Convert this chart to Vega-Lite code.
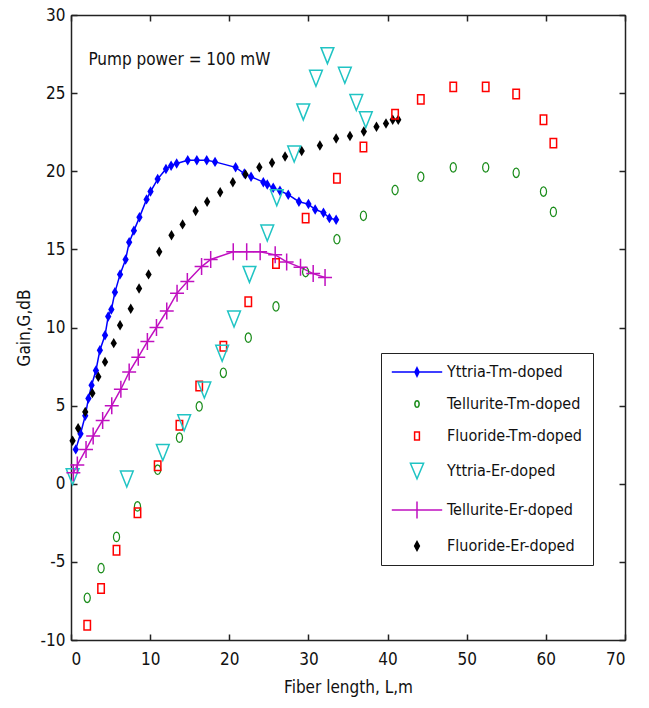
{
  "$schema": "https://vega.github.io/schema/vega-lite/v6.json",
  "width": 554,
  "height": 625,
  "autosize": "none",
  "padding": {"left": 71, "top": 15, "right": 24, "bottom": 68},
  "background": "white",
  "config": {
    "font": "DejaVu Sans Condensed, Liberation Sans, sans-serif",
    "view": {"stroke": "#222", "strokeWidth": 1},
    "axis": {
      "grid": false,
      "labelFont": "DejaVu Sans Condensed, Liberation Sans, sans-serif",
      "labelFontSize": 17,
      "labelColor": "#111",
      "titleFont": "DejaVu Sans Condensed, Liberation Sans, sans-serif",
      "titleFontSize": 17,
      "titleFontWeight": "normal",
      "titleColor": "#111",
      "domainColor": "#222",
      "domainWidth": 1.5,
      "tickColor": "#222",
      "tickWidth": 1.5,
      "tickSize": -6
    },
    "legend": {
      "labelFont": "DejaVu Sans Condensed, Liberation Sans, sans-serif",
      "labelFontSize": 16,
      "labelColor": "#111"
    }
  },
  "datasets": {
    "pts": [
      {"s": "Yttria-Tm-doped", "x": 0.6, "y": 2.2},
      {"s": "Yttria-Tm-doped", "x": 1.2, "y": 3.2},
      {"s": "Yttria-Tm-doped", "x": 1.8, "y": 4.35},
      {"s": "Yttria-Tm-doped", "x": 2.2, "y": 5.45},
      {"s": "Yttria-Tm-doped", "x": 2.6, "y": 6.3},
      {"s": "Yttria-Tm-doped", "x": 3.15, "y": 7.25},
      {"s": "Yttria-Tm-doped", "x": 3.65, "y": 8.55},
      {"s": "Yttria-Tm-doped", "x": 4.3, "y": 9.5},
      {"s": "Yttria-Tm-doped", "x": 4.7, "y": 10.7},
      {"s": "Yttria-Tm-doped", "x": 5.1, "y": 11.15},
      {"s": "Yttria-Tm-doped", "x": 5.55, "y": 12.25},
      {"s": "Yttria-Tm-doped", "x": 6.2, "y": 13.4},
      {"s": "Yttria-Tm-doped", "x": 6.9, "y": 14.35},
      {"s": "Yttria-Tm-doped", "x": 7.35, "y": 15.45},
      {"s": "Yttria-Tm-doped", "x": 7.95, "y": 16.2},
      {"s": "Yttria-Tm-doped", "x": 8.65, "y": 17.05},
      {"s": "Yttria-Tm-doped", "x": 9.55, "y": 18.2},
      {"s": "Yttria-Tm-doped", "x": 10.05, "y": 18.7},
      {"s": "Yttria-Tm-doped", "x": 10.95, "y": 19.5},
      {"s": "Yttria-Tm-doped", "x": 12.0, "y": 20.15},
      {"s": "Yttria-Tm-doped", "x": 12.65, "y": 20.35},
      {"s": "Yttria-Tm-doped", "x": 13.35, "y": 20.5},
      {"s": "Yttria-Tm-doped", "x": 14.75, "y": 20.7},
      {"s": "Yttria-Tm-doped", "x": 15.9, "y": 20.7},
      {"s": "Yttria-Tm-doped", "x": 17.15, "y": 20.7},
      {"s": "Yttria-Tm-doped", "x": 18.2, "y": 20.6},
      {"s": "Yttria-Tm-doped", "x": 20.8, "y": 20.25},
      {"s": "Yttria-Tm-doped", "x": 21.9, "y": 19.85},
      {"s": "Yttria-Tm-doped", "x": 22.75, "y": 19.65},
      {"s": "Yttria-Tm-doped", "x": 24.3, "y": 19.3},
      {"s": "Yttria-Tm-doped", "x": 24.8, "y": 19.15},
      {"s": "Yttria-Tm-doped", "x": 25.55, "y": 18.95},
      {"s": "Yttria-Tm-doped", "x": 26.4, "y": 18.75},
      {"s": "Yttria-Tm-doped", "x": 27.45, "y": 18.5},
      {"s": "Yttria-Tm-doped", "x": 28.8, "y": 18.05},
      {"s": "Yttria-Tm-doped", "x": 30.0, "y": 17.9},
      {"s": "Yttria-Tm-doped", "x": 30.85, "y": 17.55},
      {"s": "Yttria-Tm-doped", "x": 31.9, "y": 17.35},
      {"s": "Yttria-Tm-doped", "x": 32.65, "y": 17.0},
      {"s": "Yttria-Tm-doped", "x": 33.5, "y": 16.9},

      {"s": "Tellurite-Tm-doped", "x": 2.05, "y": -7.3},
      {"s": "Tellurite-Tm-doped", "x": 3.8, "y": -5.4},
      {"s": "Tellurite-Tm-doped", "x": 5.75, "y": -3.4},
      {"s": "Tellurite-Tm-doped", "x": 8.4, "y": -1.45},
      {"s": "Tellurite-Tm-doped", "x": 10.95, "y": 0.9},
      {"s": "Tellurite-Tm-doped", "x": 13.7, "y": 2.95},
      {"s": "Tellurite-Tm-doped", "x": 16.2, "y": 4.95},
      {"s": "Tellurite-Tm-doped", "x": 19.25, "y": 7.1},
      {"s": "Tellurite-Tm-doped", "x": 22.4, "y": 9.35},
      {"s": "Tellurite-Tm-doped", "x": 25.9, "y": 11.35},
      {"s": "Tellurite-Tm-doped", "x": 29.65, "y": 13.55},
      {"s": "Tellurite-Tm-doped", "x": 33.6, "y": 15.65},
      {"s": "Tellurite-Tm-doped", "x": 36.95, "y": 17.15},
      {"s": "Tellurite-Tm-doped", "x": 40.95, "y": 18.8},
      {"s": "Tellurite-Tm-doped", "x": 44.2, "y": 19.65},
      {"s": "Tellurite-Tm-doped", "x": 48.3, "y": 20.25},
      {"s": "Tellurite-Tm-doped", "x": 52.4, "y": 20.25},
      {"s": "Tellurite-Tm-doped", "x": 56.25, "y": 19.9},
      {"s": "Tellurite-Tm-doped", "x": 59.7, "y": 18.7},
      {"s": "Tellurite-Tm-doped", "x": 60.95, "y": 17.4},

      {"s": "Fluoride-Tm-doped", "x": 2.05, "y": -9.05},
      {"s": "Fluoride-Tm-doped", "x": 3.8, "y": -6.7},
      {"s": "Fluoride-Tm-doped", "x": 5.75, "y": -4.25},
      {"s": "Fluoride-Tm-doped", "x": 8.4, "y": -1.85},
      {"s": "Fluoride-Tm-doped", "x": 10.95, "y": 1.15},
      {"s": "Fluoride-Tm-doped", "x": 13.7, "y": 3.75},
      {"s": "Fluoride-Tm-doped", "x": 16.2, "y": 6.25},
      {"s": "Fluoride-Tm-doped", "x": 19.25, "y": 8.8},
      {"s": "Fluoride-Tm-doped", "x": 22.4, "y": 11.65},
      {"s": "Fluoride-Tm-doped", "x": 25.9, "y": 14.1},
      {"s": "Fluoride-Tm-doped", "x": 29.65, "y": 17.0},
      {"s": "Fluoride-Tm-doped", "x": 33.6, "y": 19.55},
      {"s": "Fluoride-Tm-doped", "x": 36.95, "y": 21.55},
      {"s": "Fluoride-Tm-doped", "x": 40.95, "y": 23.65},
      {"s": "Fluoride-Tm-doped", "x": 44.2, "y": 24.6},
      {"s": "Fluoride-Tm-doped", "x": 48.3, "y": 25.4},
      {"s": "Fluoride-Tm-doped", "x": 52.4, "y": 25.4},
      {"s": "Fluoride-Tm-doped", "x": 56.25, "y": 24.95},
      {"s": "Fluoride-Tm-doped", "x": 59.7, "y": 23.3},
      {"s": "Fluoride-Tm-doped", "x": 60.95, "y": 21.8},

      {"s": "Yttria-Er-doped", "x": 0.2, "y": 0.45},
      {"s": "Yttria-Er-doped", "x": 7.05, "y": 0.3},
      {"s": "Yttria-Er-doped", "x": 11.6, "y": 2.0},
      {"s": "Yttria-Er-doped", "x": 14.3, "y": 3.9},
      {"s": "Yttria-Er-doped", "x": 16.85, "y": 6.0},
      {"s": "Yttria-Er-doped", "x": 19.1, "y": 8.35},
      {"s": "Yttria-Er-doped", "x": 20.6, "y": 10.55},
      {"s": "Yttria-Er-doped", "x": 22.55, "y": 13.4},
      {"s": "Yttria-Er-doped", "x": 24.8, "y": 16.05},
      {"s": "Yttria-Er-doped", "x": 26.0, "y": 18.3},
      {"s": "Yttria-Er-doped", "x": 28.2, "y": 21.1},
      {"s": "Yttria-Er-doped", "x": 29.35, "y": 23.8},
      {"s": "Yttria-Er-doped", "x": 30.95, "y": 25.95},
      {"s": "Yttria-Er-doped", "x": 32.4, "y": 27.4},
      {"s": "Yttria-Er-doped", "x": 34.6, "y": 26.15},
      {"s": "Yttria-Er-doped", "x": 36.05, "y": 24.4},
      {"s": "Yttria-Er-doped", "x": 37.25, "y": 23.3},

      {"s": "Tellurite-Er-doped", "x": 0.3, "y": 0.7},
      {"s": "Tellurite-Er-doped", "x": 0.8, "y": 1.2},
      {"s": "Tellurite-Er-doped", "x": 1.9, "y": 2.2},
      {"s": "Tellurite-Er-doped", "x": 2.8, "y": 3.05},
      {"s": "Tellurite-Er-doped", "x": 4.0, "y": 4.05},
      {"s": "Tellurite-Er-doped", "x": 5.15, "y": 5.0},
      {"s": "Tellurite-Er-doped", "x": 6.3, "y": 6.05},
      {"s": "Tellurite-Er-doped", "x": 7.35, "y": 7.15},
      {"s": "Tellurite-Er-doped", "x": 8.5, "y": 8.1},
      {"s": "Tellurite-Er-doped", "x": 9.65, "y": 9.1},
      {"s": "Tellurite-Er-doped", "x": 10.8, "y": 10.0},
      {"s": "Tellurite-Er-doped", "x": 12.1, "y": 11.05},
      {"s": "Tellurite-Er-doped", "x": 13.4, "y": 12.2},
      {"s": "Tellurite-Er-doped", "x": 14.7, "y": 12.95},
      {"s": "Tellurite-Er-doped", "x": 16.5, "y": 13.9},
      {"s": "Tellurite-Er-doped", "x": 17.65, "y": 14.35},
      {"s": "Tellurite-Er-doped", "x": 20.5, "y": 14.85},
      {"s": "Tellurite-Er-doped", "x": 22.2, "y": 14.85},
      {"s": "Tellurite-Er-doped", "x": 23.9, "y": 14.85},
      {"s": "Tellurite-Er-doped", "x": 25.8, "y": 14.65},
      {"s": "Tellurite-Er-doped", "x": 27.25, "y": 14.2},
      {"s": "Tellurite-Er-doped", "x": 29.0, "y": 13.85},
      {"s": "Tellurite-Er-doped", "x": 30.6, "y": 13.45},
      {"s": "Tellurite-Er-doped", "x": 32.1, "y": 13.2},

      {"s": "Fluoride-Er-doped", "x": 0.2, "y": 2.75},
      {"s": "Fluoride-Er-doped", "x": 0.9, "y": 3.55},
      {"s": "Fluoride-Er-doped", "x": 1.8, "y": 4.6},
      {"s": "Fluoride-Er-doped", "x": 2.7, "y": 5.8},
      {"s": "Fluoride-Er-doped", "x": 3.45, "y": 6.85},
      {"s": "Fluoride-Er-doped", "x": 4.3, "y": 7.8},
      {"s": "Fluoride-Er-doped", "x": 5.4, "y": 9.0},
      {"s": "Fluoride-Er-doped", "x": 6.2, "y": 10.15},
      {"s": "Fluoride-Er-doped", "x": 7.55, "y": 11.2},
      {"s": "Fluoride-Er-doped", "x": 8.6, "y": 12.5},
      {"s": "Fluoride-Er-doped", "x": 9.8, "y": 13.4},
      {"s": "Fluoride-Er-doped", "x": 11.15, "y": 14.85},
      {"s": "Fluoride-Er-doped", "x": 12.7, "y": 15.9},
      {"s": "Fluoride-Er-doped", "x": 14.1, "y": 16.6},
      {"s": "Fluoride-Er-doped", "x": 15.75, "y": 17.45},
      {"s": "Fluoride-Er-doped", "x": 17.2, "y": 18.05},
      {"s": "Fluoride-Er-doped", "x": 18.85, "y": 18.65},
      {"s": "Fluoride-Er-doped", "x": 20.45, "y": 19.3},
      {"s": "Fluoride-Er-doped", "x": 22.05, "y": 19.8},
      {"s": "Fluoride-Er-doped", "x": 23.8, "y": 20.25},
      {"s": "Fluoride-Er-doped", "x": 25.4, "y": 20.55},
      {"s": "Fluoride-Er-doped", "x": 27.05, "y": 20.95},
      {"s": "Fluoride-Er-doped", "x": 29.15, "y": 21.3},
      {"s": "Fluoride-Er-doped", "x": 31.45, "y": 21.65},
      {"s": "Fluoride-Er-doped", "x": 33.5, "y": 22.1},
      {"s": "Fluoride-Er-doped", "x": 35.25, "y": 22.25},
      {"s": "Fluoride-Er-doped", "x": 37.0, "y": 22.55},
      {"s": "Fluoride-Er-doped", "x": 38.6, "y": 22.85},
      {"s": "Fluoride-Er-doped", "x": 39.8, "y": 23.05},
      {"s": "Fluoride-Er-doped", "x": 40.65, "y": 23.3},
      {"s": "Fluoride-Er-doped", "x": 41.35, "y": 23.3}
    ],
    "note": [{"label": "Pump power = 100 mW", "x": 2.2, "y": 27.1}]
  },
  "layer": [
    {
      "layer": [
        {
          "data": {"name": "pts"},
          "transform": [{"filter": "datum.s === 'Yttria-Tm-doped' || datum.s === 'Tellurite-Er-doped'"}],
          "mark": {"type": "line", "strokeWidth": 1.5},
          "encoding": {
            "x": {"field": "x", "type": "quantitative", "scale": {"domain": [0, 70], "nice": false, "zero": false},
                  "axis": {"values": [0, 10, 20, 30, 40, 50, 60, 70], "title": "Fiber length, L,m", "titlePadding": 12, "labelPadding": 17}},
            "y": {"field": "y", "type": "quantitative", "scale": {"domain": [-10, 30], "nice": false, "zero": false},
                  "axis": {"values": [-10, -5, 0, 5, 10, 15, 20, 25, 30], "labelExpr": "toString(datum.value)", "title": "Gain,G,dB", "titlePadding": 7, "labelPadding": 12}},
            "color": {
              "field": "s", "type": "nominal",
              "scale": {
                "domain": ["Yttria-Tm-doped", "Tellurite-Tm-doped", "Fluoride-Tm-doped", "Yttria-Er-doped", "Tellurite-Er-doped", "Fluoride-Er-doped"],
                "range": ["#0000ff", "#1a8c1a", "#ff0000", "#20c4c4", "#c010c0", "#000000"]
              },
              "legend": {
                "title": null,
                "orient": "none",
                "legendX": 310,
                "legendY": 338,
                "padding": 11,
                "strokeColor": "#222",
                "fillColor": "white",
                "symbolSize": 144,
                "symbolOffset": 17,
                "labelOffset": 22,
                "rowPadding": 16,
                "symbolStrokeWidth": 1.5,
                "symbolFillColor": "transparent",
                "encode": {
                  "symbols": {
                    "update": {
                      "shape": {"signal": "datum.value === 'Yttria-Tm-doped' ? 'M-4.2,0H4.2M0,-0.7L0.35,0L0,0.7L-0.35,0Z' : datum.value === 'Tellurite-Tm-doped' ? 'M0,-0.55L0.19,-0.48L0.31,-0.28L0.36,0L0.31,0.28L0.19,0.48L0,0.55L-0.19,0.48L-0.31,0.28L-0.36,0L-0.31,-0.28L-0.19,-0.48Z' : datum.value === 'Fluoride-Tm-doped' ? 'M-0.4,-0.65H0.4V0.65H-0.4Z' : datum.value === 'Yttria-Er-doped' ? 'M-1.1,-1.3H1.1L0,1.3Z' : datum.value === 'Tellurite-Er-doped' ? 'M-4.2,0H4.2M0,-1.4V1.4' : 'M0,-0.75L0.4,0L0,0.75L-0.4,0Z'"},
                      "fill": {"signal": "scale('color', datum.value)"},
                      "fillOpacity": {"signal": "(datum.value === 'Yttria-Tm-doped' || datum.value === 'Fluoride-Er-doped') ? 1 : 0"},
                      "stroke": {"signal": "scale('color', datum.value)"},
                      "strokeWidth": {"value": 1.5},
                      "size": {"value": 144},
                      "opacity": {"value": 1}
                    }
                  }
                }
              }
            },
            "detail": {"field": "s"}
          }
        },
        {
          "data": {"name": "pts"},
          "transform": [{"filter": "datum.s === 'Yttria-Tm-doped' || datum.s === 'Fluoride-Er-doped'"}],
          "mark": {"type": "point", "filled": true, "opacity": 1, "shape": "M0,-1L0.6,0L0,1L-0.6,0Z", "size": 110},
          "encoding": {
            "x": {"field": "x", "type": "quantitative"},
            "y": {"field": "y", "type": "quantitative"},
            "color": {"field": "s", "type": "nominal"}
          }
        },
        {
          "data": {"name": "pts"},
          "transform": [{"filter": "datum.s === 'Tellurite-Tm-doped'"}],
          "mark": {"type": "point", "filled": false, "opacity": 1, "strokeWidth": 1.2, "shape": "M0,-1L0.325,-0.866L0.563,-0.5L0.65,0L0.563,0.5L0.325,0.866L0,1L-0.325,0.866L-0.563,0.5L-0.65,0L-0.563,-0.5L-0.325,-0.866Z", "size": 90},
          "encoding": {
            "x": {"field": "x", "type": "quantitative"},
            "y": {"field": "y", "type": "quantitative"},
            "color": {"field": "s", "type": "nominal"}
          }
        },
        {
          "data": {"name": "pts"},
          "transform": [{"filter": "datum.s === 'Fluoride-Tm-doped'"}],
          "mark": {"type": "point", "filled": false, "opacity": 1, "strokeWidth": 1.5, "shape": "M-0.68,-1H0.68V1H-0.68Z", "size": 90},
          "encoding": {
            "x": {"field": "x", "type": "quantitative"},
            "y": {"field": "y", "type": "quantitative"},
            "color": {"field": "s", "type": "nominal"}
          }
        },
        {
          "data": {"name": "pts"},
          "transform": [{"filter": "datum.s === 'Yttria-Er-doped'"}],
          "mark": {"type": "point", "filled": false, "opacity": 1, "strokeWidth": 1.5, "shape": "M-0.8,-1H0.8L0,1Z", "size": 256},
          "encoding": {
            "x": {"field": "x", "type": "quantitative"},
            "y": {"field": "y", "type": "quantitative"},
            "color": {"field": "s", "type": "nominal"}
          }
        },
        {
          "data": {"name": "pts"},
          "transform": [{"filter": "datum.s === 'Tellurite-Er-doped'"}],
          "mark": {"type": "point", "filled": false, "opacity": 1, "strokeWidth": 1.5, "shape": "M-0.82,0H0.82M0,-1V1", "size": 289},
          "encoding": {
            "x": {"field": "x", "type": "quantitative"},
            "y": {"field": "y", "type": "quantitative"},
            "color": {"field": "s", "type": "nominal"}
          }
        },
        {
          "data": {"name": "note"},
          "mark": {"type": "text", "align": "left", "baseline": "middle", "fontSize": 17, "font": "DejaVu Sans Condensed, Liberation Sans, sans-serif", "color": "#111"},
          "encoding": {
            "x": {"field": "x", "type": "quantitative"},
            "y": {"field": "y", "type": "quantitative"},
            "text": {"field": "label"}
          }
        }
      ]
    },
    {
      "data": {"name": "note"},
      "mark": {"type": "point", "opacity": 0},
      "encoding": {
        "x": {"field": "x", "type": "quantitative", "scale": {"domain": [0, 70], "nice": false, "zero": false},
              "axis": {"orient": "top", "values": [0, 10, 20, 30, 40, 50, 60, 70], "labels": false, "title": null}},
        "y": {"field": "y", "type": "quantitative", "scale": {"domain": [-10, 30], "nice": false, "zero": false},
              "axis": {"orient": "right", "values": [-10, -5, 0, 5, 10, 15, 20, 25, 30], "labels": false, "title": null}}
      }
    }
  ],
  "resolve": {"axis": {"x": "independent", "y": "independent"}}
}
